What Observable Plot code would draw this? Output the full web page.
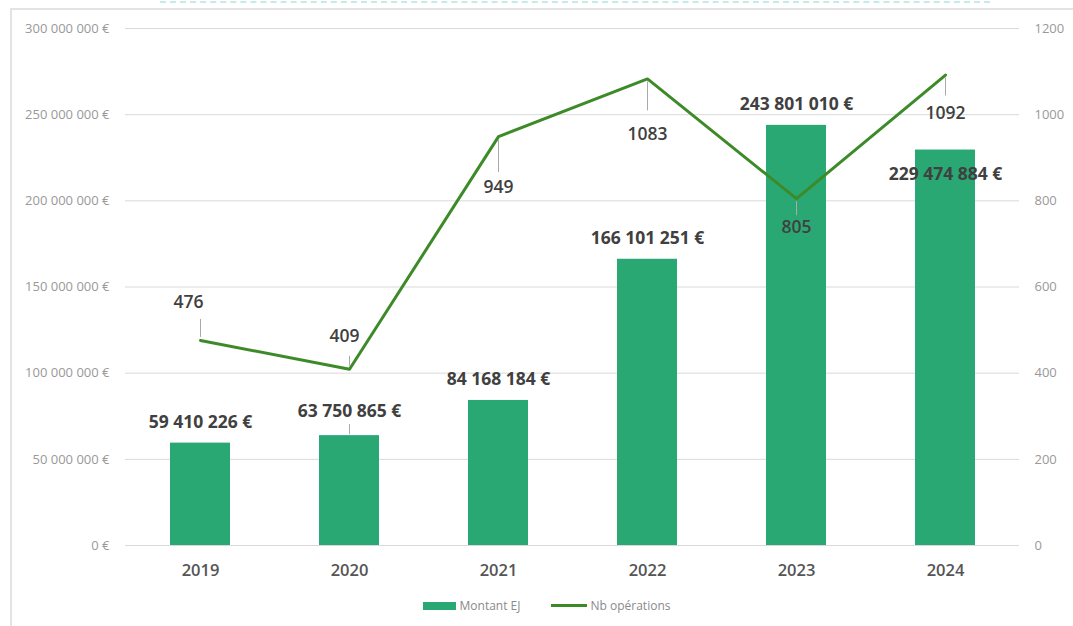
<!DOCTYPE html>
<html><head><meta charset="utf-8">
<script src="https://cdn.jsdelivr.net/npm/d3@7"></script>
<script src="https://cdn.jsdelivr.net/npm/@observablehq/plot@0.6"></script>
<style>
body{margin:0;background:#fff;font-family:"Open Sans",sans-serif;}
#frame{position:absolute;left:10px;top:8px;width:1100px;height:700px;border-left:2px solid #e3e3e3;border-top:2px solid #e3e3e3;}
#deco{position:absolute;left:160px;top:1px;width:830px;height:0;border-top:2px dashed #c6ebe6;}
#chart{position:absolute;left:0;top:0;}
#legend{position:absolute;left:0;top:597px;width:1073px;display:flex;justify-content:center;gap:30px;font-size:12px;color:#8a8a8a;margin-left:10px;}
.it{display:flex;align-items:center;gap:4px;}
.sw1{width:33px;height:8px;background:#29a874;}
.sw2{width:36px;height:3px;background:#3b8a26;}
</style></head>
<body>
<div id="deco"></div>
<div id="frame"></div>
<div id="chart"></div>
<div id="legend"><div class="it"><span class="sw1"></span>Montant EJ</div><div class="it"><span class="sw2"></span>Nb opérations</div></div>
<script>
const years = ["2019","2020","2021","2022","2023","2024"];
const montants = [59410226, 63750865, 84168184, 166101251, 243801010, 229474884];
const operations = [476, 409, 949, 1083, 805, 1092];
const leftTicks = [0, 50000000, 100000000, 150000000, 200000000, 250000000, 300000000];
const rightTicks = [0, 200, 400, 600, 800, 1000, 1200];

const K = 300000000 / 1200;          // right-axis to left-axis factor
const top_ = 28, bottom_ = 545;
const mpp = 300000000 / (bottom_ - top_); // money per pixel

const loc = d3.formatLocale({decimal: ",", thousands: "\u00a0", grouping: [3], currency: ["", "\u00a0€"]});
const fmtEur = loc.format("$,d");

// label layout (pixel offsets)
const barLabelDy = [-21, -24, -21, -21, -21, 24];
const lineLabelOff = [[-12, -38], [-5, -33], [0, 51], [0, 55], [0, 29], [0, 38]];
const lineLeader = [[-3, -21], [-3, -13], [3, 36], [3, 32], [3, 17], [3, 21]];

const idx = years.map((_, i) => i);
const marks = [
  Plot.gridY(leftTicks, {stroke: "#d9d9d9", strokeOpacity: 1, strokeWidth: 1}),
  Plot.barY(idx, {x: i => years[i], y: i => montants[i], fill: "#29a874"}),
  Plot.line(idx, {x: i => years[i], y: i => operations[i] * K, stroke: "#3d8a28", strokeWidth: 3}),
  Plot.axisY(leftTicks, {anchor: "left", tickSize: 0, tickPadding: 16, tickFormat: v => fmtEur(v), fontSize: 13, fill: "#999", label: null}),
  Plot.axisY(rightTicks.map(v => v * K), {anchor: "right", tickSize: 0, tickPadding: 15, tickFormat: v => String(Math.round(v / K)), fontSize: 13, fill: "#999", label: null}),
  Plot.axisX({tickSize: 0, tickPadding: 19, fontSize: 16.5, fontWeight: 600, fill: "#555", label: null})
];
// bar value labels
idx.forEach(i => {
  marks.push(Plot.text([i], {x: j => years[j], y: j => montants[j], text: j => fmtEur(montants[j]), dy: barLabelDy[i], fontSize: 17.5, fontWeight: 700, fill: "#404040"}));
});
// leader for 2020 bar label
marks.push(Plot.ruleX([1], {x: j => years[j], y1: j => montants[j] + 1 * mpp, y2: j => montants[j] + 11 * mpp, stroke: "#aaa", strokeWidth: 1}));
// line value labels with leaders
idx.forEach(i => {
  const [dx, dy] = lineLabelOff[i];
  const [a, b] = lineLeader[i];
  marks.push(Plot.ruleX([i], {x: j => years[j], y1: j => operations[j] * K - a * mpp, y2: j => operations[j] * K - b * mpp, stroke: "#aaa", strokeWidth: 1}));
  marks.push(Plot.text([i], {x: j => years[j], y: j => operations[j] * K, text: j => String(operations[j]), dx, dy, fontSize: 17.5, fontWeight: 600, fill: "#404040"}));
});

const chart = Plot.plot({
  width: 1073,
  height: 590,
  marginLeft: 125,
  marginRight: 54,
  marginTop: top_,
  marginBottom: 590 - bottom_,
  style: {fontFamily: "'Open Sans', sans-serif", background: "transparent"},
  x: {domain: years, paddingInner: 0.6, paddingOuter: 0.3, axis: null},
  y: {domain: [0, 300000000], axis: null},
  marks
});
document.getElementById("chart").appendChild(chart);
</script>
</body></html>
